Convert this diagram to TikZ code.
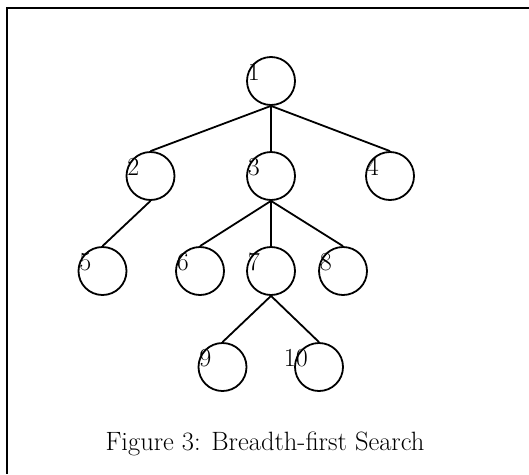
\documentclass[tikz,border=0pt]{standalone}
\begin{document}
\begin{tikzpicture}[x=1pt,y=-1pt,
  vtx/.style={draw,circle,minimum size=48pt,inner sep=0pt,line width=1.8pt},
  lbl/.style={anchor=east,inner sep=0pt,font=\fontsize{26}{30}\selectfont},
  edge/.style={line width=1.8pt}]
\useasboundingbox (0,0) rectangle (529,474);
\draw[line width=2.5pt] (529,8) -- (7,8) -- (7,474);
\node[vtx] (n1) at (271,81) {};
\node[vtx] (n2) at (150.5,176) {};
\node[vtx] (n3) at (271,176) {};
\node[vtx] (n4) at (390,176) {};
\node[vtx] (n5) at (102.5,271) {};
\node[vtx] (n6) at (200,271) {};
\node[vtx] (n7) at (271,271) {};
\node[vtx] (n8) at (343,271) {};
\node[vtx] (n9) at (222.5,367) {};
\node[vtx] (n10) at (319,367) {};
\foreach \n in {1,...,10}{
  \node[lbl] (l\n) at ([xshift=-11pt,yshift=9pt]n\n.center) {\n};
}
\draw[edge] (n1.south) -- (n2.north);
\draw[edge] (n1.south) -- (n3.north);
\draw[edge] (n1.south) -- (n4.north);
\draw[edge] (n2.south) -- (n5.north);
\draw[edge] (n3.south) -- (n6.north);
\draw[edge] (n3.south) -- (n7.north);
\draw[edge] (n3.south) -- (n8.north);
\draw[edge] (n7.south) -- (n9.north);
\draw[edge] (n7.south) -- (n10.north);
\node[anchor=base,inner sep=0pt,font=\fontsize{26.5}{30}\selectfont] (cap) at (265,450) {Figure 3: Breadth-first Search};
\end{tikzpicture}
\end{document}
